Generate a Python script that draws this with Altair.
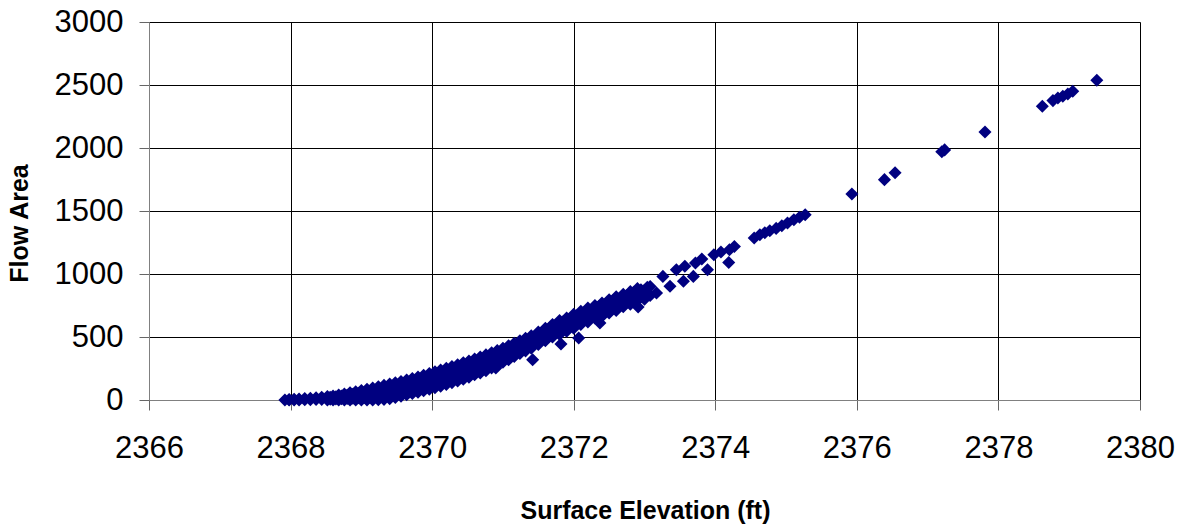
import altair as alt
import pandas as pd

# Surface elevation (ft) and flow area
elevation = [
    2367.92, 2367.98, 2367.98, 2368.05, 2368.05, 2368.12, 2368.12,
    2368.20, 2368.20, 2368.28, 2368.28, 2368.36, 2368.36, 2368.44, 2368.44,
    2368.52, 2368.52, 2368.52, 2368.60, 2368.60, 2368.60,
    2368.68, 2368.68, 2368.68, 2368.76, 2368.76, 2368.76,
    2368.84, 2368.84, 2368.84, 2368.92, 2368.92, 2368.92,
    2369.00, 2369.00, 2369.00, 2369.08, 2369.08, 2369.08,
    2369.16, 2369.16, 2369.16, 2369.24, 2369.24, 2369.24,
    2369.32, 2369.32, 2369.32, 2369.40, 2369.40, 2369.40,
    2369.48, 2369.48, 2369.48, 2369.56, 2369.56, 2369.56,
    2369.64, 2369.64, 2369.64, 2369.72, 2369.72, 2369.72,
    2369.80, 2369.80, 2369.80, 2369.88, 2369.88, 2369.88,
    2369.96, 2369.96, 2369.96, 2370.04, 2370.04, 2370.04,
    2370.12, 2370.12, 2370.12, 2370.20, 2370.20, 2370.20,
    2370.28, 2370.28, 2370.28, 2370.36, 2370.36, 2370.36,
    2370.44, 2370.44, 2370.44, 2370.52, 2370.52, 2370.52,
    2370.60, 2370.60, 2370.60, 2370.68, 2370.68, 2370.68,
    2370.76, 2370.76, 2370.76, 2370.84, 2370.84, 2370.84,
    2370.92, 2370.92, 2370.92, 2371.00, 2371.00, 2371.00,
    2371.08, 2371.08, 2371.08, 2371.16, 2371.16, 2371.16,
    2371.24, 2371.24, 2371.24, 2371.32, 2371.32, 2371.32,
    2371.40, 2371.40, 2371.40, 2371.50, 2371.50, 2371.50,
    2371.60, 2371.60, 2371.60, 2371.70, 2371.70, 2371.70,
    2371.80, 2371.80, 2371.80, 2371.90, 2371.90, 2371.90,
    2372.00, 2372.00, 2372.00, 2372.10, 2372.10, 2372.10,
    2372.20, 2372.20, 2372.20, 2372.30, 2372.30, 2372.30,
    2372.40, 2372.40, 2372.40, 2372.50, 2372.50, 2372.50,
    2372.60, 2372.60, 2372.60, 2372.70, 2372.70, 2372.70,
    2372.80, 2372.80, 2372.80, 2372.90, 2372.90, 2372.90,
    2373.00, 2373.00, 2373.08, 2373.08,
    2368.56, 2368.56, 2368.64, 2368.64, 2368.72, 2368.72, 2368.80, 2368.80,
    2368.88, 2368.88, 2368.96, 2368.96, 2369.04, 2369.04, 2369.12, 2369.12,
    2369.20, 2369.20, 2369.28, 2369.28, 2369.36, 2369.36, 2369.44, 2369.44,
    2369.52, 2369.52, 2369.60, 2369.60, 2369.68, 2369.68, 2369.76, 2369.76,
    2369.84, 2369.84, 2369.92, 2369.92, 2370.00, 2370.00, 2370.08, 2370.08,
    2370.16, 2370.16, 2370.24, 2370.24, 2370.32, 2370.32, 2370.40, 2370.40,
    2370.48, 2370.48, 2370.56, 2370.56, 2370.64, 2370.64, 2370.72, 2370.72,
    2370.80, 2370.80, 2370.88, 2370.88, 2370.96, 2370.96, 2371.04, 2371.04,
    2371.12, 2371.12, 2371.20, 2371.20, 2371.28, 2371.28, 2371.36, 2371.36,
    2371.45, 2371.45, 2371.55, 2371.55, 2371.65, 2371.65, 2371.75, 2371.75,
    2371.85, 2371.85, 2371.95, 2371.95, 2372.05, 2372.05, 2372.15, 2372.15,
    2372.25, 2372.25, 2372.35, 2372.35, 2372.45, 2372.45, 2372.55, 2372.55,
    2372.65, 2372.65, 2372.75, 2372.75, 2372.85, 2372.85, 2372.95, 2372.95,
    2373.04, 2373.04,
    2370.47, 2370.90, 2371.19, 2371.42, 2371.82, 2372.07, 2372.37, 2372.91,
    2373.17, 2373.26, 2373.36, 2373.45, 2373.55, 2373.57, 2373.69,
    2373.72, 2373.81, 2373.89, 2373.98, 2374.08, 2374.19, 2374.20,
    2374.27, 2374.55, 2374.63, 2374.70, 2374.77, 2374.86, 2374.94,
    2375.02, 2375.11, 2375.19, 2375.27,
    2375.93, 2376.39, 2376.54, 2377.20, 2377.24, 2377.81,
    2378.62, 2378.77, 2378.84, 2378.91, 2378.98, 2379.05, 2379.39,
]
area = [
    0, 0, 4, 0, 6, 0, 8,
    2, 11, 3, 14, 4, 18, 5, 22,
    0, 14, 27, 0, 16, 32,
    0, 20, 40, 0, 22, 48,
    0, 28, 57, 0, 33, 66,
    0, 38, 76, 0, 44, 86,
    0, 50, 96, 2, 55, 106,
    5, 62, 116, 10, 68, 126,
    20, 76, 136, 30, 86, 146,
    42, 96, 158, 52, 108, 170,
    62, 120, 183, 74, 132, 196,
    86, 144, 210, 98, 158, 224,
    110, 172, 238, 124, 186, 252,
    138, 200, 266, 150, 214, 280,
    165, 230, 295, 180, 246, 310,
    200, 262, 325, 215, 280, 342,
    232, 298, 358, 255, 318, 375,
    275, 336, 392, 300, 355, 410,
    320, 378, 430, 345, 400, 450,
    370, 425, 470, 390, 445, 490,
    410, 470, 510, 440, 495, 540,
    470, 525, 570, 500, 560, 600,
    520, 590, 630, 545, 615, 650,
    570, 640, 680, 600, 665, 705,
    620, 690, 730, 650, 710, 750,
    665, 735, 770, 690, 755, 795,
    710, 780, 820, 740, 800, 840,
    760, 825, 860, 790, 850, 885,
    800, 870, 830, 900,
    7, 21, 9, 26, 10, 32, 12, 38,
    15, 45, 18, 52, 20, 60, 22, 68,
    26, 76, 30, 84, 35, 92, 42, 100,
    50, 108, 62, 120, 74, 132, 86, 145,
    98, 158, 110, 172, 124, 186, 136, 200,
    150, 214, 162, 228, 176, 242, 190, 256,
    205, 272, 222, 288, 240, 305, 258, 322,
    276, 340, 296, 358, 318, 376, 340, 396,
    362, 415, 385, 438, 408, 458, 430, 478,
    455, 505, 480, 535, 512, 565, 540, 595,
    565, 620, 590, 645, 615, 670, 640, 695,
    665, 715, 685, 740, 705, 760, 725, 785,
    750, 805, 775, 830, 795, 855, 820, 875,
    840, 895,
    222, 254, 373, 320, 444, 492, 611, 738,
    849, 981, 902, 1034, 942, 1061, 981,
    1087, 1119, 1034, 1153, 1174, 1092, 1193,
    1219, 1286, 1312, 1328, 1344, 1362, 1383,
    1405, 1431, 1450, 1471,
    1635, 1749, 1804, 1970, 1985, 2127,
    2331, 2376, 2397, 2410, 2429, 2450, 2537,
]

df = pd.DataFrame({"elev": elevation, "area": area})

x_ticks = [2366, 2368, 2370, 2372, 2374, 2376, 2378, 2380]
y_ticks = [0, 500, 1000, 1500, 2000, 2500, 3000]

common_axis = dict(
    format="d",
    titleFont="Liberation Sans",
    titleFontSize=25,
    titleFontWeight="bold",
    titleColor="#000000",
    titleBaseline="alphabetic",
    titleAlign="center",
    labelFont="Liberation Sans",
    labelFontSize=31,
    labelColor="#000000",
    tickSize=10,
    tickColor="#666666",
    domainColor="#808080",
    gridColor="#000000",
    gridOpacity=1,
    gridWidth=1,
    labelFlush=False,
)

chart = (
    alt.Chart(df)
    .mark_point(shape="diamond", filled=True, size=170, color="#000080", opacity=1)
    .encode(
        x=alt.X(
            "elev:Q",
            scale=alt.Scale(domain=[2366, 2380], nice=False, zero=False),
            axis=alt.Axis(
                values=x_ticks,
                title="Surface Elevation (ft)",
                titleX=496,
                titleY=118,
                labelPadding=23,
                **common_axis,
            ),
        ),
        y=alt.Y(
            "area:Q",
            scale=alt.Scale(domain=[0, 3000], nice=False),
            axis=alt.Axis(
                values=y_ticks,
                title="Flow Area",
                titleAngle=-90,
                titleX=-122,
                titleY=201,
                labelPadding=16,
                **common_axis,
            ),
        ),
    )
    .properties(
        width=991,
        height=378,
        autosize=alt.AutoSizeParams(type="none"),
        padding={"left": 149, "top": 22, "right": 43, "bottom": 125},
    )
    .configure_view(stroke=None)
    .configure(background="white")
)

chart.save("out.html", embed_options={"renderer": "svg", "actions": False})
